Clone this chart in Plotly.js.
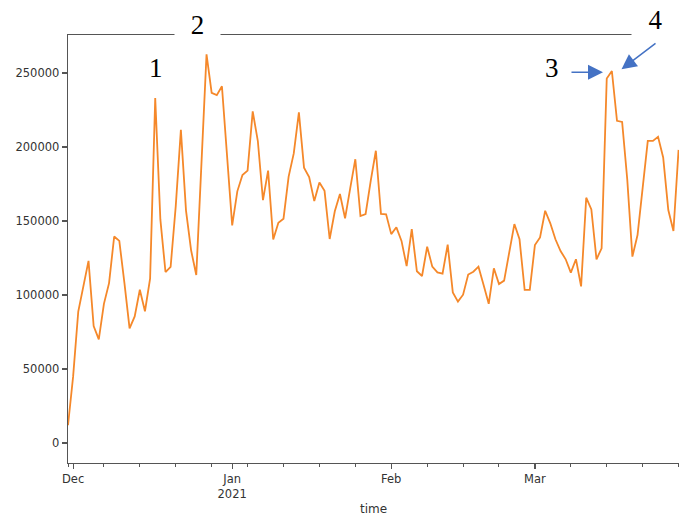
<!DOCTYPE html>
<html>
<head>
<meta charset="utf-8">
<script src="https://cdn.plot.ly/plotly-3.0.1.min.js"></script>
<style>
html, body { margin: 0; padding: 0; background: #ffffff; overflow: hidden; }
#chart { width: 679px; height: 516px; }
</style>
</head>
<body>
<div id="chart"></div>
<script>
// Daily series, starting 2020-11-30
const startDate = '2020-11-30';
const values = [
  12000, 45000, 88800, 107000, 123000, 79000, 70000, 94000, 108000, 139500,
  136500, 108000, 77500, 85500, 103500, 89000, 111000, 233000, 151000, 115500,
  119000, 160000, 211500, 157000, 130000, 113500, 188000, 262500, 236500, 235000,
  241000, 194000, 147000, 170000, 181000, 184000, 224000, 204000, 164000, 184000,
  137500, 148800, 151500, 180000, 195600, 223300, 186000, 179600, 163400, 176000,
  170300, 137800, 156500, 168200, 151800, 172000, 191700, 153300, 154600, 177000,
  197400, 154700, 154500, 141100, 145700, 136500, 119500, 144500, 116000, 112800,
  132600, 119100, 115200, 114400, 134000, 101700, 95500, 100200, 113800, 115700,
  119100, 106800, 94000, 118000, 107400, 109700, 128200, 147900, 137600, 103400,
  103400, 133700, 138900, 156900, 148400, 137600, 129700, 124100, 115100, 124100,
  105800, 165700, 157800, 124100, 131500, 246200, 251300, 217600, 216900, 178000,
  125900, 140500, 172400, 204100, 204100, 206800, 192900, 157400, 143200, 198000
];
const monthTicks = ['2020-12-01', '2021-01-01', '2021-02-01', '2021-03-01'];
const monthLabels = ['Dec', 'Jan<br>2021', 'Feb', 'Mar'];
const yTicks = [0, 50000, 100000, 150000, 200000, 250000];
const markLabels = ['1', '2', '3', '4'];

const DAY = 86400000;

const trace = {
  type: 'scatter',
  mode: 'lines',
  x0: startDate,
  dx: DAY,
  y: values,
  line: { color: '#f5882a', width: 1.8 },
  hoverinfo: 'skip'
};

const axisColor = '#555555';
const tickFont = { family: 'DejaVu Sans', size: 11.5, color: '#333333' };
const serif = { family: 'Liberation Serif', size: 27, color: '#000000' };
const blue = '#4472c4';

function label(x, y, text, extra) {
  return Object.assign({ xref: 'paper', yref: 'paper', x: x, y: y, text: text, showarrow: false,
    xanchor: 'center', yanchor: 'middle', font: serif }, extra || {});
}

const layout = {
  width: 679,
  height: 516,
  margin: { l: 68, r: 0, t: 35, b: 53 },
  paper_bgcolor: '#ffffff',
  plot_bgcolor: '#ffffff',
  showlegend: false,
  xaxis: {
    type: 'date',
    range: ['2020-11-30 00:00', '2021-03-29 02:00'],
    tickmode: 'array',
    tickvals: monthTicks,
    ticktext: monthLabels,
    ticks: 'outside',
    ticklen: 5,
    tickwidth: 1.2,
    tickcolor: axisColor,
    tickfont: tickFont,
    minor: { dtick: 7 * DAY, tick0: '2020-11-30', ticks: 'outside', ticklen: 3, tickwidth: 1, tickcolor: axisColor, showgrid: false },
    showgrid: false,
    zeroline: false,
    showline: true,
    linecolor: axisColor,
    linewidth: 1.3,
    mirror: true,
    title: { text: 'time', font: { family: 'DejaVu Sans', size: 12, color: '#333333' }, standoff: 6 },
    automargin: false
  },
  yaxis: {
    range: [-13500, 275600],
    tickmode: 'array',
    tickvals: yTicks,
    ticktext: yTicks.map(String),
    ticks: 'outside',
    ticklen: 5,
    tickwidth: 1.2,
    tickcolor: axisColor,
    tickfont: tickFont,
    showgrid: false,
    zeroline: false,
    showline: true,
    linecolor: axisColor,
    linewidth: 1.3,
    mirror: false,
    automargin: false
  },
  annotations: [
    label(0.144, 0.922, markLabels[0]),
    label(0.212, 1.0226, markLabels[1], { bgcolor: '#ffffff', width: 43, height: 30 }),
    label(0.792, 0.922, markLabels[2]),
    label(0.9615, 1.0343, markLabels[3], { bgcolor: '#ffffff', width: 45, height: 30 }),
    { xref: 'paper', yref: 'paper', x: 0.8756, y: 0.913, text: '', showarrow: true,
      ax: -33, ay: 0, arrowhead: 2, arrowsize: 2, arrowwidth: 1.5, arrowcolor: blue, standoff: 0 },
    { xref: 'paper', yref: 'paper', x: 0.9059, y: 0.92, text: '', showarrow: true,
      ax: 35.5, ay: -27, arrowhead: 2, arrowsize: 2, arrowwidth: 1.5, arrowcolor: blue, standoff: 0 }
  ]
};

Plotly.newPlot('chart', [trace], layout, { displayModeBar: false, staticPlot: true });
</script>
</body>
</html>
